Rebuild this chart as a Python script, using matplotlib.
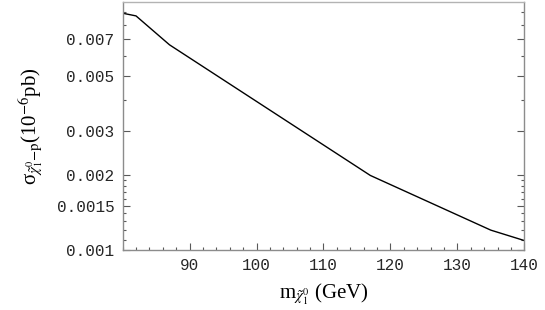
import numpy as np
import matplotlib
matplotlib.use("Agg")
from matplotlib import pyplot as plt
from matplotlib.ticker import FixedLocator, FixedFormatter, NullFormatter

# neutralino mass (GeV) and cross section (10^-6 pb)
mass = [80, 82, 87, 117, 135, 140]
sigma = [0.00892, 0.0087, 0.00666, 0.00199, 0.00120, 0.00109]

xticks = [90, 100, 110, 120, 130, 140]
yticks = [0.001, 0.0015, 0.002, 0.003, 0.005, 0.007]
ylabels = ["0.001", "0.0015", "0.002", "0.003", "0.005", "0.007"]
yminor = [0.0011, 0.0012, 0.0013, 0.0014, 0.0016, 0.0017, 0.0018, 0.0019,
          0.004, 0.006, 0.008, 0.009]

plt.rcParams['mathtext.fontset'] = 'stix'

fig = plt.figure(figsize=(5.45, 3.10), dpi=100)
ax = fig.add_axes([0.225, 0.194, 0.737, 0.798])

ax.plot(mass, sigma, color='black', lw=1.0)

ax.set_yscale('log')
ax.set_xlim(80, 140)
ax.set_ylim(0.001, 0.00985)

ax.yaxis.set_major_locator(FixedLocator(yticks))
ax.yaxis.set_major_formatter(FixedFormatter(ylabels))
ax.yaxis.set_minor_locator(FixedLocator(yminor))
ax.yaxis.set_minor_formatter(NullFormatter())
ax.set_xticks(xticks)
ax.set_xticks(np.arange(80, 141, 2), minor=True)

for lab in ax.get_xticklabels() + ax.get_yticklabels():
    lab.set_family('Liberation Mono')
    lab.set_fontsize(11.5)
    lab.set_color('0.15')

ax.tick_params(which='both', direction='in', colors='0.35', labelcolor='0.15',
               top=False, right=True, width=0.8)
ax.tick_params(which='major', length=5, pad=6)
ax.tick_params(which='minor', length=2.5)
for s in ax.spines.values():
    s.set_color('0.55')
    s.set_linewidth(1.0)
ax.spines['top'].set_color('0.7')

ax.set_xlabel(r'm$_{\tilde{\chi}^0_1}$ (GeV)', family='Liberation Serif',
              fontsize=15, labelpad=6)
ax.set_ylabel(r'σ$_{\tilde{\chi}^0_1\mathrm{-p}}$(10$^{-6}$pb)', family='Liberation Serif',
              fontsize=15, labelpad=8)

fig.savefig('out.png', dpi=100)
